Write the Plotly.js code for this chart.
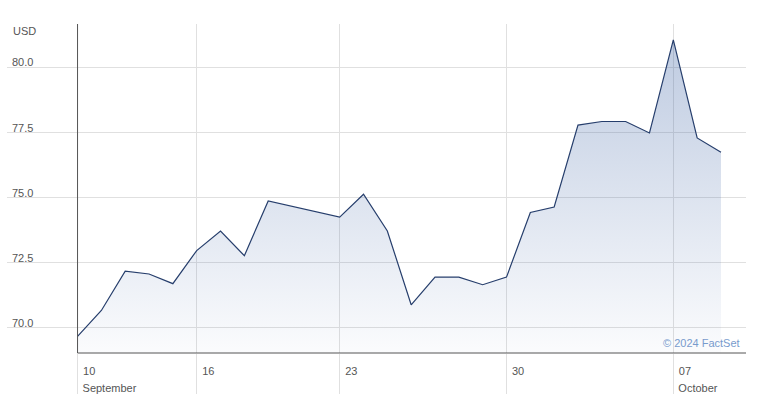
<!DOCTYPE html>
<html>
<head>
<meta charset="utf-8">
<script src="https://cdn.plot.ly/plotly-3.0.1.min.js"></script>
<style>html,body{margin:0;padding:0;background:#fff;}#chart{width:781px;height:415px;}</style>
</head>
<body>
<div id="chart"></div>
<script>
// Day offsets of each observation (days from first point) and closing prices (USD)
const dayIndex = [0, 1, 2, 3, 4, 5, 6, 7, 8, 11, 12, 13, 14, 15, 16, 17, 18, 19, 20, 21, 22, 23, 24, 25, 26, 27];
const price = [69.68, 70.67, 72.18, 72.07, 71.70, 72.97, 73.72, 72.77, 74.87, 74.25, 75.13, 73.72, 70.89,
               71.95, 71.95, 71.66, 71.95, 74.43, 74.64, 77.78, 77.92, 77.92, 77.48, 81.05, 77.29, 76.74];
const tickDays = [0, 5, 11, 18, 25];
const tickLabels = ['10', '16', '23', '30', '07'];
const monthDays = [0, 25];
const monthLabels = ['September', 'October'];
const yTicks = [70, 72.5, 75, 77.5, 80];
const yTickLabels = ['70.0', '72.5', '75.0', '77.5', '80.0'];
const unitLabel = 'USD';
const credit = '\u00A9 2024 FactSet';

const X_RANGE = [-2.96, 28.05];
const Y_RANGE = [69.04, 81.66];
const FONT = 'Arial, "Liberation Sans", sans-serif';
const GRID = '#e0e0e0';
const AXIS = '#555555';
const TEXT = '#555555';

const traces = [
  {
    x: dayIndex, y: price, type: 'scatter', mode: 'lines',
    line: {color: 'rgb(38,62,108)', width: 1.2},
    fill: 'tozeroy',
    fillgradient: {
      type: 'vertical', start: Y_RANGE[0], stop: Y_RANGE[1],
      colorscale: [[0, 'rgba(50,90,160,0.02)'], [1, 'rgba(50,90,160,0.33)']]
    },
    hoverinfo: 'skip', showlegend: false
  },
  {
    x: dayIndex, y: price, xaxis: 'x2', type: 'scatter', mode: 'lines',
    line: {width: 0}, opacity: 0, hoverinfo: 'skip', showlegend: false
  }
];

const layout = {
  width: 781, height: 415,
  margin: {l: 7, r: 35, t: 24, b: 62},
  paper_bgcolor: '#ffffff', plot_bgcolor: '#ffffff',
  showlegend: false,
  font: {family: FONT, size: 11, color: TEXT},
  xaxis: {
    range: X_RANGE, showgrid: true, gridcolor: GRID, gridwidth: 1, zeroline: false, showline: false,
    tickmode: 'array', tickvals: tickDays, ticktext: tickLabels,
    ticks: 'outside', ticklen: 40, tickwidth: 1, tickcolor: GRID,
    ticklabelposition: 'outside right', ticklabelstandoff: 8, ticklabelshift: 5,
    tickfont: {family: FONT, size: 11, color: TEXT}, fixedrange: true
  },
  xaxis2: {
    overlaying: 'x', anchor: 'y', side: 'bottom', range: X_RANGE,
    showgrid: false, zeroline: false, showline: false, ticks: '',
    tickmode: 'array', tickvals: monthDays, ticktext: monthLabels,
    ticklabelposition: 'outside right', ticklabelstandoff: 27, ticklabelshift: 5,
    tickfont: {family: FONT, size: 11, color: TEXT}, fixedrange: true
  },
  yaxis: {
    range: Y_RANGE, showgrid: true, gridcolor: GRID, gridwidth: 1, zeroline: false, showline: false,
    tickmode: 'array', tickvals: yTicks, ticktext: yTickLabels, ticks: '',
    ticklabelposition: 'inside top', ticklabelshift: 3, ticklabelstandoff: 2,
    tickfont: {family: FONT, size: 11, color: TEXT}, fixedrange: true
  },
  shapes: [
    {type: 'line', xref: 'x', yref: 'paper', x0: dayIndex[0], x1: dayIndex[0], y0: 0, y1: 1,
     line: {color: AXIS, width: 1}, layer: 'above'},
    {type: 'line', xref: 'x', yref: 'paper', x0: dayIndex[0], x1: X_RANGE[1], y0: 0, y1: 0,
     line: {color: AXIS, width: 1}, layer: 'above'}
  ],
  annotations: [
    {text: unitLabel, xref: 'paper', yref: 'paper', x: 0, y: 1, xanchor: 'left', yanchor: 'top',
     xshift: 4, yshift: 1, showarrow: false, font: {family: FONT, size: 11, color: TEXT}},
    {text: credit, xref: 'paper', yref: 'paper', x: 1, y: 0, xanchor: 'right', yanchor: 'bottom',
     xshift: -4, yshift: 2, showarrow: false, font: {family: FONT, size: 11, color: 'rgb(120,155,205)'}}
  ]
};

Plotly.newPlot('chart', traces, layout, {staticPlot: true, displayModeBar: false});
</script>
</body>
</html>
